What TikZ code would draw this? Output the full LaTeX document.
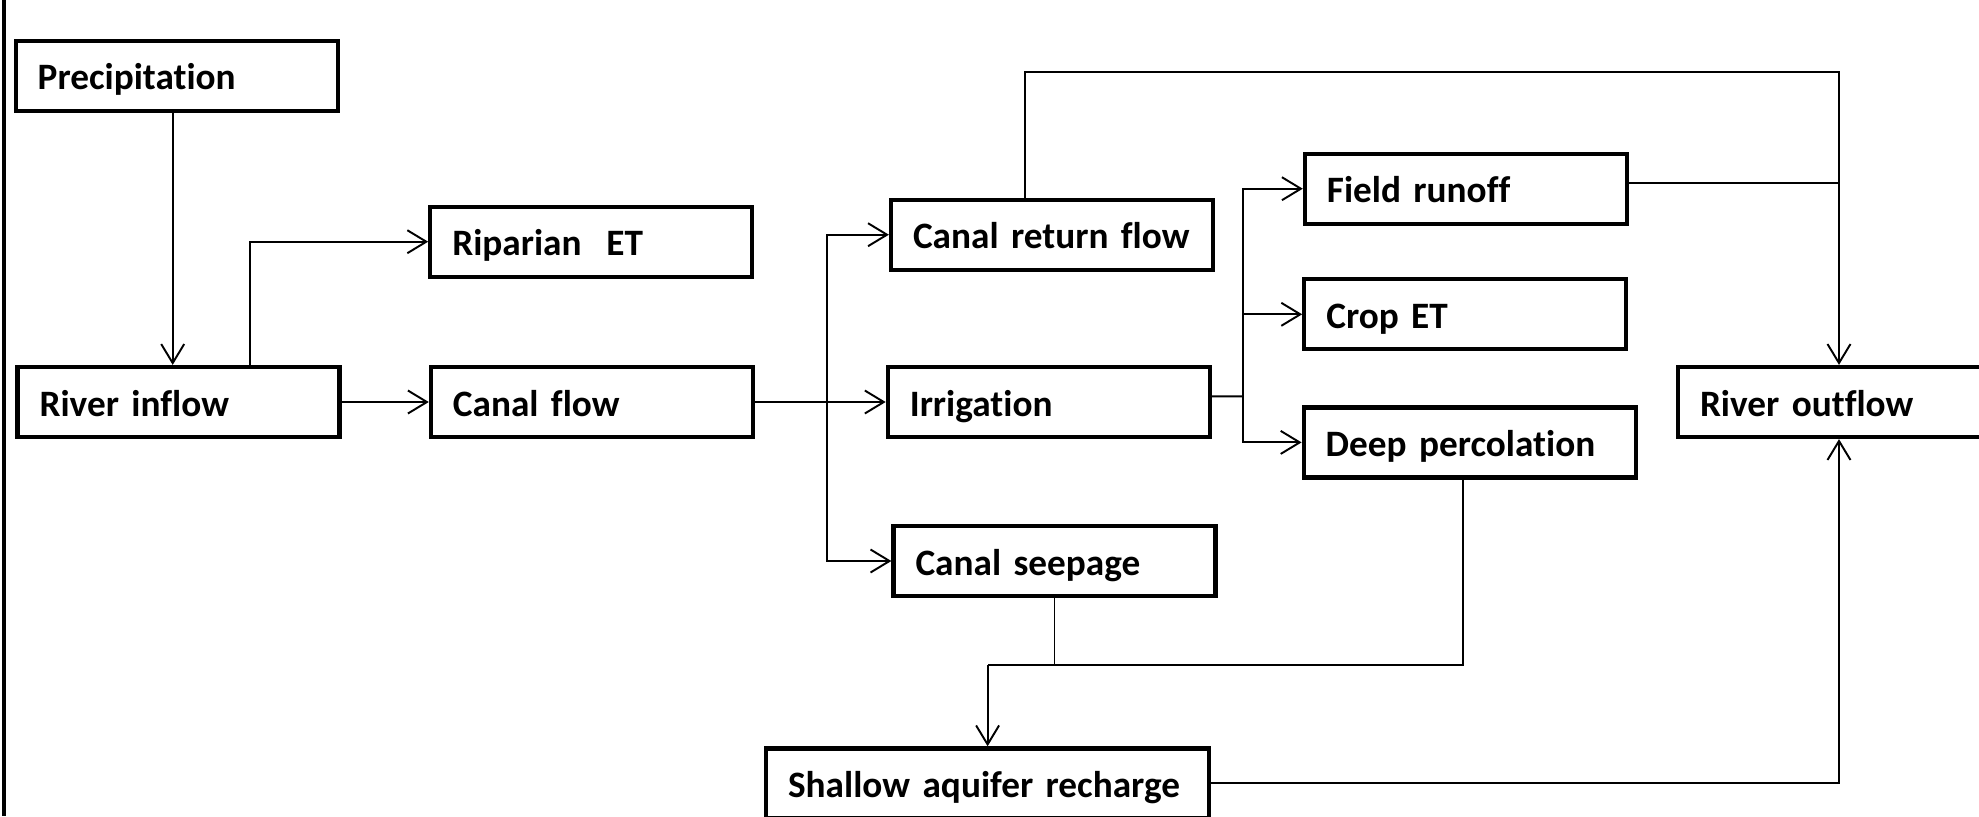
\documentclass[tikz,border=0pt]{standalone}
\usepackage{fontspec}
\setmainfont{Carlito}[Ligatures=NoCommon]
\usepackage{tikz}
\usetikzlibrary{positioning,arrows.meta}

\begin{document}
\begin{tikzpicture}[
box/.style={draw, line width=1.2pt, align=left, text width=27.8mm, inner xsep=2.2mm, text height=3.2mm, text depth=0.4mm, minimum height=7mm, font=\fontsize{10.6}{12}\selectfont\bfseries},
arr/.style={-{Straight Barb[length=1.9mm,width=2.3mm]}, line width=0.55pt},
conn/.style={line width=0.55pt}
]
\useasboundingbox (0,0) rectangle (19.79,-8.16);
\draw[line width=1.3pt] (0.04,0) -- (0.04,-8.16);

\node[box] (prec) at (1.767,-0.757) {Precipitation};
\node[box] (rin) at (1.786,-4.02) {River inflow};
\node[box] (rip) at (5.913,-2.417) {Riparian\ \ ET};
\node[box] (canal) at (5.919,-4.02) {Canal flow};
\node[box] (cret) at (10.52,-2.347) {Canal return flow};
\node[box] (irr) at (10.488,-4.02) {Irrigation};
\node[box] (seep) at (10.545,-5.61) {Canal seepage};
\node[box] (runoff) at (14.659,-1.887) {Field runoff};
\node[box] (crop) at (14.653,-3.143) {Crop ET};
\node[box, text width=28.8mm] (deep) at (14.697,-4.424) {Deep percolation};
\node[box] (rout) at (18.39,-4.02) {River outflow};
\node[box, text width=39.9mm] (shallow) at (9.876,-7.834) {Shallow aquifer recharge};

\coordinate (split1) at (8.267,-4.02);
\coordinate (split2) at (12.432,-3.963);
\coordinate (ctop) at (18.39,-0.719);
\coordinate (cjoin) at (9.876,-6.651);

\draw[arr] ([xshift=-0.4mm]prec.south) -- ([xshift=-0.4mm]prec.south |- rin.north);
\draw[arr] ([xshift=7.1mm]rin.north) |- (rip.west);
\draw[arr] (rin.east) -- (canal.west);
\draw[arr] (canal.east) -- (irr.west);
\draw[arr] (split1) |- (cret.west);
\draw[arr] (split1) |- (seep.west);
\draw[arr] ([xshift=-2.7mm]cret.north) |- (ctop) -- (rout.north);
\draw[conn] ([yshift=0.57mm]irr.east) -- (split2);
\draw[arr] (split2) |- (runoff.west);
\draw[arr] (split2) |- (crop.west);
\draw[arr] (split2) |- (deep.west);
\draw[conn] ([yshift=0.57mm]runoff.east) -- ([yshift=0.57mm]runoff.east -| ctop);
\draw[conn] (seep.south) -- (seep.south |- cjoin);
\draw[conn] ([xshift=-0.7mm]deep.south) |- (cjoin);
\draw[arr] (cjoin) -- (shallow.north);
\draw[arr] (shallow.east) -| (rout.south);
\end{tikzpicture}
\end{document}
